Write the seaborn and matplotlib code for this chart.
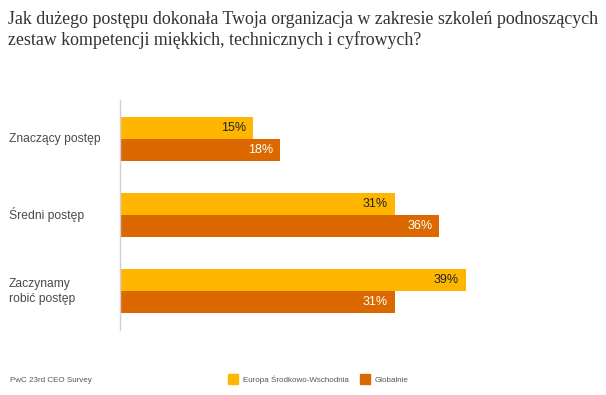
import pandas as pd
import matplotlib.pyplot as plt
import seaborn as sns
from matplotlib.patches import Patch

kategorie = ["Znaczący postęp", "Średni postęp", "Zaczynamy\nrobić postęp"]
europa = [15, 31, 39]
globalnie = [18, 36, 31]
serie = ["Europa Środkowo-Wschodnia", "Globalnie"]
kolory = ["#FFB600", "#DC6900"]

tytul = ("Jak dużego postępu dokonała Twoja organizacja w zakresie szkoleń podnoszących\n"
         "zestaw kompetencji miękkich, technicznych i cyfrowych?")
zrodlo = "PwC 23rd CEO Survey"

df = pd.DataFrame({
    "kategoria": kategorie * 2,
    "wartosc": europa + globalnie,
    "region": [serie[0]] * 3 + [serie[1]] * 3,
})

sns.set_style("white")
plt.rcParams["font.family"] = ["Liberation Sans", "DejaVu Sans"]

fig = plt.figure(figsize=(6.06, 3.95), dpi=100)
W, H = 606, 395
# axes: x 120..590 px, y 100..330 px
ax = fig.add_axes([120 / W, 1 - 330 / H, 470 / W, 230 / H])

sns.barplot(data=df, y="kategoria", x="wartosc", hue="region", orient="h",
            palette=kolory, width=0.57, saturation=1, linewidth=0,
            ax=ax, legend=False)

ax.set_xlim(0, 470 / 8.87)
ax.set_ylim(2.51, -0.51)
ax.set_xlabel("")
ax.set_ylabel("")
ax.set_xticks([])
for s in ["top", "right", "bottom"]:
    ax.spines[s].set_visible(False)
ax.spines["left"].set_color("#d0d0d0")
ax.spines["left"].set_linewidth(1)

ax.set_yticks(range(len(kategorie)))
ax.set_yticklabels([])
for i, k in enumerate(kategorie):
    ax.text(-111 / 8.87, i, k, ha="left", va="center", fontsize=8.7,
            color="#4a4a4a", linespacing=1.35)

kolory_tekstu = ["#222222", "white"]
for cont, kt in zip(ax.containers, kolory_tekstu):
    for p in cont:
        w = p.get_width()
        ax.annotate(f"{w:.0f}%", xy=(w, p.get_y() + p.get_height() / 2),
                    xytext=(-5, 0), textcoords="offset points",
                    ha="right", va="center", fontsize=9, color=kt)

fig.text(8 / W, 1 - 11 / H, tytul, ha="left", va="top", fontsize=12.85,
         family=["Liberation Serif"], color="#333333", linespacing=1.22)

fig.text(10 / W, 1 - 380 / H, zrodlo, ha="left", va="center", fontsize=5.8,
         color="#555555")

uchwyty = [Patch(color=c, label=s) for c, s in zip(kolory, serie)]
fig.legend(handles=uchwyty, loc="center left", bbox_to_anchor=(228 / W, 1 - 379 / H),
           ncol=2, frameon=False, fontsize=5.8, handlelength=1.24, handleheight=1.4,
           handletextpad=0.62, columnspacing=1.36, borderpad=0, borderaxespad=0,
           labelcolor="#555555")

fig.savefig("out.png", dpi=100, facecolor="white")
